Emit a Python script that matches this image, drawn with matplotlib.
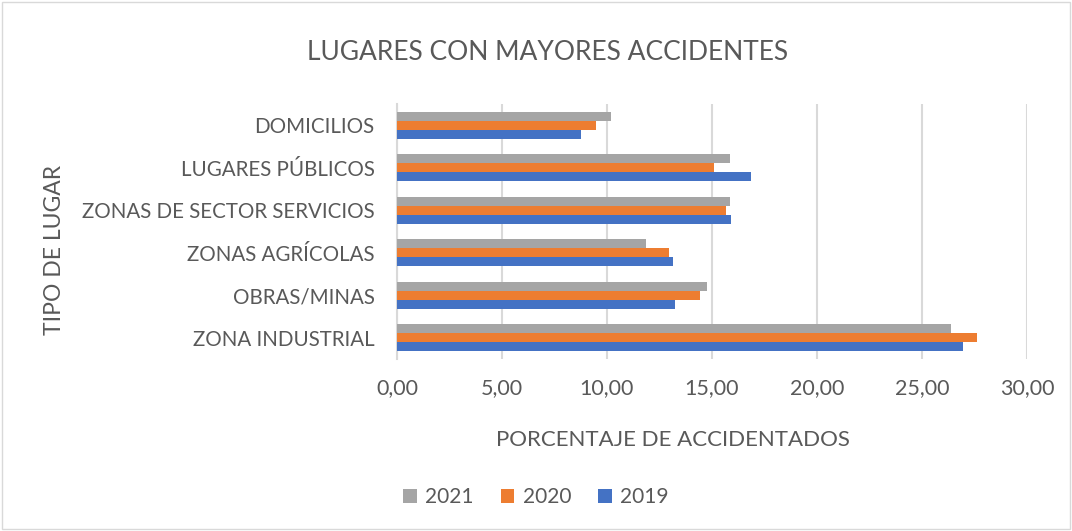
import numpy as np
import matplotlib.pyplot as plt
from matplotlib.patches import Rectangle

# Datos
lugares = ['ZONA INDUSTRIAL', 'OBRAS/MINAS', 'ZONAS AGRÍCOLAS',
           'ZONAS DE SECTOR SERVICIOS', 'LUGARES PÚBLICOS', 'DOMICILIOS']
v2021 = [26.40, 14.75, 11.87, 15.86, 15.86, 10.21]
v2020 = [27.62, 14.45, 12.97, 15.67, 15.11, 9.48]
v2019 = [26.95, 13.22, 13.16, 15.92, 16.85, 8.77]
xticks = [0, 5, 10, 15, 20, 25, 30]

plt.rcParams['font.family'] = ['Lato', 'DejaVu Sans']
txt = '#595959'

fig = plt.figure(figsize=(10.72, 5.31), dpi=100)
ax = fig.add_axes([0.3703, 0.324, 0.5877, 0.480])

y = np.arange(len(lugares))
h = 0.21
ax.barh(y + h, v2021, height=h, color='#a5a5a5', label='2021', zorder=3)
ax.barh(y, v2020, height=h, color='#ed7d31', label='2020', zorder=3)
ax.barh(y - h, v2019, height=h, color='#4472c4', label='2019', zorder=3)

ax.set_xlim(0, 30)
ax.set_ylim(-0.5, len(lugares) - 0.5)
ax.set_xticks(xticks)
ax.set_xticklabels([f'{t:.2f}'.replace('.', ',') for t in xticks], fontsize=15.5)
ax.set_yticks(y)
ax.set_yticklabels(lugares, fontsize=14.8)
ax.tick_params(axis='both', length=0, colors=txt)
ax.tick_params(axis='x', pad=14)
ax.tick_params(axis='y', pad=16)
ax.grid(axis='x', color='#d9d9d9', linewidth=1.5, zorder=0)
for s in ['top', 'right', 'bottom']:
    ax.spines[s].set_visible(False)
ax.spines['left'].set_color('#d9d9d9')
ax.spines['left'].set_linewidth(1.5)

fig.text(548 / 1072, 1 - 52 / 531, 'LUGARES CON MAYORES ACCIDENTES',
         ha='center', va='center', fontsize=19, color=txt)
fig.text(673 / 1072, 1 - 440 / 531, 'PORCENTAJE DE ACCIDENTADOS',
         ha='center', va='center', fontsize=16, color=txt)
fig.text(55 / 1072, 1 - 250 / 531, 'TIPO DE LUGAR', rotation=90,
         ha='center', va='center', fontsize=16.5, color=txt)

fig.legend(loc='center', bbox_to_anchor=(536 / 1072, 1 - 497 / 531), ncol=3,
           frameon=False, fontsize=15, labelcolor=txt, handlelength=0.65,
           handleheight=0.65, handletextpad=0.4, columnspacing=1.3)

fig.patches.append(Rectangle((0.002, 0.003), 0.996, 0.994, transform=fig.transFigure,
                             fill=False, edgecolor='#d9d9d9', linewidth=1))

fig.savefig('out.png', dpi=100, facecolor='white')
